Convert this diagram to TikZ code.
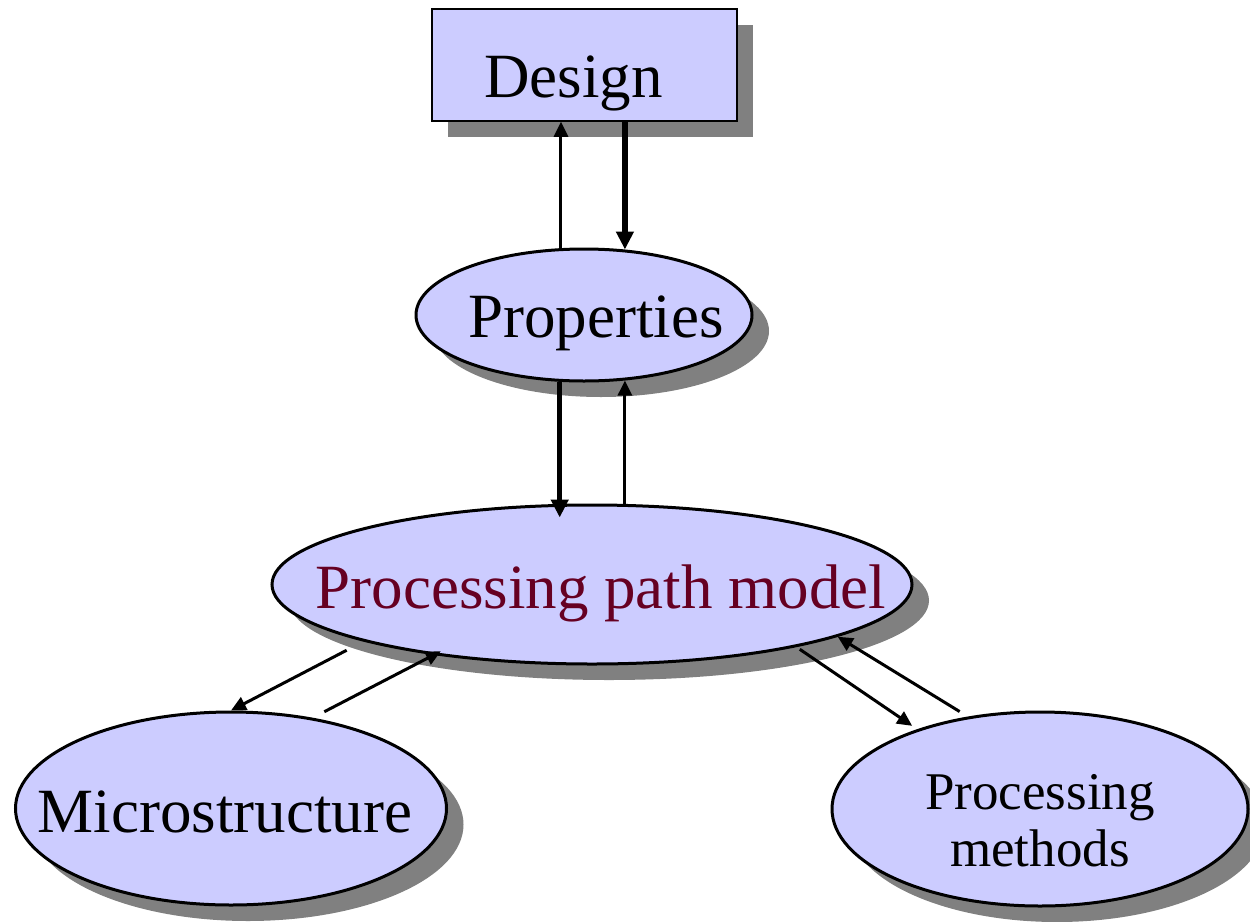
\documentclass[tikz,border=0pt]{standalone}
\usepackage{fontspec}
\setmainfont{Liberation Serif}
\usepackage{tikz}
\usetikzlibrary{shapes,arrows.meta,positioning,shadows,calc}

\definecolor{boxfill}{RGB}{204,204,255}
\definecolor{shadowgray}{RGB}{128,128,128}
\definecolor{pathred}{RGB}{102,0,34}

\newcommand{\inbox}[1]{\makebox[0pt]{#1}}

\begin{document}
\begin{tikzpicture}[
    x=1pt, y=-1pt,
    bigfont/.style={font=\fontsize{63}{70}\selectfont},
    designbox/.style={rectangle, draw, line width=1.5pt, fill=boxfill, minimum width=305pt, minimum height=112pt, inner sep=0pt, bigfont,
        drop shadow={shadow xshift=16pt, shadow yshift=-16pt, fill=shadowgray, opacity=1}},
    bubble/.style={ellipse, draw, line width=3pt, fill=boxfill, inner sep=0pt, bigfont,
        drop shadow={shadow xshift=17pt, shadow yshift=-16pt, fill=shadowgray, opacity=1}},
    arrow/.style={-{Triangle[length=15pt, width=14pt]}, line width=3pt},
    thick_arrow/.style={-{Triangle[length=18pt, width=17pt]}, line width=5.5pt}
]

% canvas
\useasboundingbox (0,0) rectangle (1250,921);

% Design
\node[designbox, text height=64pt, text depth=0pt] (design) at (584.5,65) {\inbox{Design\hspace{22pt}}};

% Properties
\node[bubble, minimum width=336pt, minimum height=132pt, text height=44pt, text depth=0pt] (props) at (584,315) {\inbox{\hspace{24pt}Properties}};

% Processing path model
\node[bubble, minimum width=640pt, minimum height=159pt, text height=47pt, text depth=0pt, text=pathred] (ppm) at (592,584.5) {\inbox{\hspace{18pt}Processing path model}};

% Microstructure
\node[bubble, minimum width=431pt, minimum height=193pt, text height=47pt, text depth=0pt] (micro) at (231,808.5) {\inbox{Microstructure\hspace{12pt}}};

% Processing methods
\node[bubble, minimum width=416pt, minimum height=194pt, font=\fontsize{53}{57}\selectfont, text height=48pt, text depth=0pt] (methods) at (1040,809) {\inbox{\begin{tabular}{@{}c@{}}Processing\\methods\end{tabular}}};

% Arrows - Design and Properties
\draw[arrow] (props.109.4) -- (props.109.4 |- design.south);
\draw[thick_arrow] (props.58 |- design.south) -- (props.58);

% Arrows - Properties and model
\draw[thick_arrow, shorten >=-14pt] (props.250.6) -- (props.250.6 |- ppm.north);
\draw[arrow] (props.302 |- ppm.north) -- (props.302);

% Arrows - model and Microstructure
\draw[arrow, shorten <=19pt] (ppm.194.3) -- (micro.north);
\draw[arrow, shorten <=13pt, shorten >=-8pt] (micro.48.9) -- (ppm.204.8);

% Arrows - model and Processing methods
\draw[arrow, shorten <=4pt, shorten >=6pt] (ppm.343.5) -- (methods.147.6);
\draw[arrow, shorten <=9.5pt] (methods.128.4) -- (ppm.348.3);

\end{tikzpicture}
\end{document}
